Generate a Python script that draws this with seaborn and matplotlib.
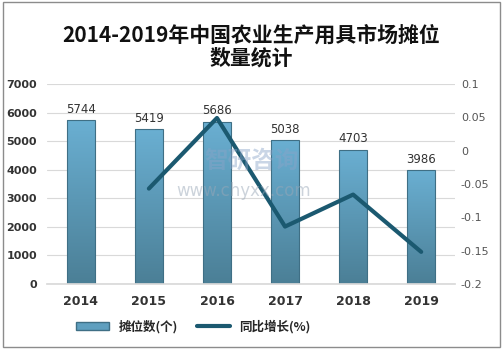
import matplotlib
matplotlib.use("Agg")
import matplotlib.pyplot as plt
import seaborn as sns
import numpy as np
import pandas as pd
from matplotlib.patches import Rectangle
from matplotlib.colors import LinearSegmentedColormap
from matplotlib.lines import Line2D

years = ["2014", "2015", "2016", "2017", "2018", "2019"]
stalls = [5744, 5419, 5686, 5038, 4703, 3986]
growth_years = ["2015", "2016", "2017", "2018", "2019"]
growth = [-0.057, 0.049, -0.114, -0.066, -0.152]

title = "2014-2019年中国农业生产用具市场摊位\n数量统计"
bar_label = "摊位数(个)"
line_label = "同比增长(%)"

sns.set_theme(style="white")
plt.rcParams['font.family'] = ['Noto Sans CJK SC', 'DejaVu Sans']

fig = plt.figure(figsize=(5.03, 3.5), dpi=100)
ax = fig.add_axes([0.093, 0.189, 0.812, 0.571])

df = pd.DataFrame({"year": years, "stalls": stalls})
sns.barplot(data=df, x="year", y="stalls", ax=ax, width=0.41,
            color="#5f9fbf", edgecolor="#3f6f85", linewidth=0.8, saturation=1)

cmap = LinearSegmentedColormap.from_list("g", ["#4b7f96", "#6aafd2"])
grad = np.linspace(0, 1, 256).reshape(-1, 1)
for p in ax.patches:
    x0, y0 = p.get_x(), p.get_y()
    w, h = p.get_width(), p.get_height()
    im = ax.imshow(grad, extent=[x0, x0 + w, y0, y0 + h], origin="lower",
                   cmap=cmap, aspect="auto", zorder=p.get_zorder())
    im.set_clip_path(p)
    p.set_facecolor("none")
    p.set_zorder(p.get_zorder() + 0.1)

for i, v in enumerate(stalls):
    ax.text(i, v + 150, str(v), ha="center", va="bottom", fontsize=8.5,
            color="#333333", family=['DejaVu Sans'])

ax.set_xlim(-0.5, 5.5)
ax.set_ylim(0, 7000)
ax.set_yticks(range(0, 7001, 1000))
ax.set_yticklabels([str(t) for t in range(0, 7001, 1000)], fontsize=8,
                   fontweight="bold", color="#333333", family=['DejaVu Sans'])
ax.set_xticks(range(len(years)))
ax.set_xticklabels(years, fontsize=9, fontweight="bold", color="#333333",
                   family=['DejaVu Sans'])
ax.set_xlabel("")
ax.set_ylabel("")
ax.yaxis.grid(True, color="#d9d9d9", linewidth=0.8)
ax.set_axisbelow(True)
for s in ["top", "left", "right"]:
    ax.spines[s].set_visible(False)
ax.spines["bottom"].set_color("#d9d9d9")
ax.tick_params(axis="x", length=0, pad=8)
ax.tick_params(axis="y", length=0, pad=7)

ax2 = ax.twinx()
xs = [years.index(y) for y in growth_years]
sns.lineplot(x=xs, y=growth, ax=ax2, color="#1b5970", linewidth=3)
ax2.set_ylim(-0.2, 0.1)
rt = [0.1, 0.05, 0, -0.05, -0.1, -0.15, -0.2]
ax2.set_yticks(rt)
ax2.set_yticklabels(["0.1", "0.05", "0", "-0.05", "-0.1", "-0.15", "-0.2"],
                    fontsize=8, color="#555555", family=['DejaVu Sans'])
ax2.tick_params(axis="y", length=0, pad=4)
for s in ["top", "left", "right", "bottom"]:
    ax2.spines[s].set_visible(False)
ax2.set_xlim(-0.5, 5.5)

# watermark
fig.text(0.50, 0.54, "智研咨询", fontsize=17, color="#8aa4c8", alpha=0.45,
         ha="center", va="center", fontweight="bold")
fig.text(0.485, 0.455, "www.chyxx.com", fontsize=12, color="#9aa8b8", alpha=0.5,
         ha="center", va="center", family=['DejaVu Sans'])

fig.suptitle(title, y=0.93, fontsize=15, color="#111111", linespacing=1.1,
             fontweight="bold")

handles = [Rectangle((0, 0), 1, 1, facecolor="#5f9fbf", edgecolor="#3f6f85"),
           Line2D([0], [0], color="#1b5970", linewidth=3)]
leg = fig.legend(handles, [bar_label, line_label], loc="lower center",
                 bbox_to_anchor=(0.385, 0.015), ncol=2, frameon=False,
                 prop={"size": 9, "weight": "bold"}, handlelength=2.6,
                 handleheight=0.6, columnspacing=1.5)

fig.patches.append(Rectangle((0.005, 0.008), 0.99, 0.985, transform=fig.transFigure,
                             fill=False, edgecolor="#8c8c8c", linewidth=1))

fig.savefig("out.png", dpi=100)
